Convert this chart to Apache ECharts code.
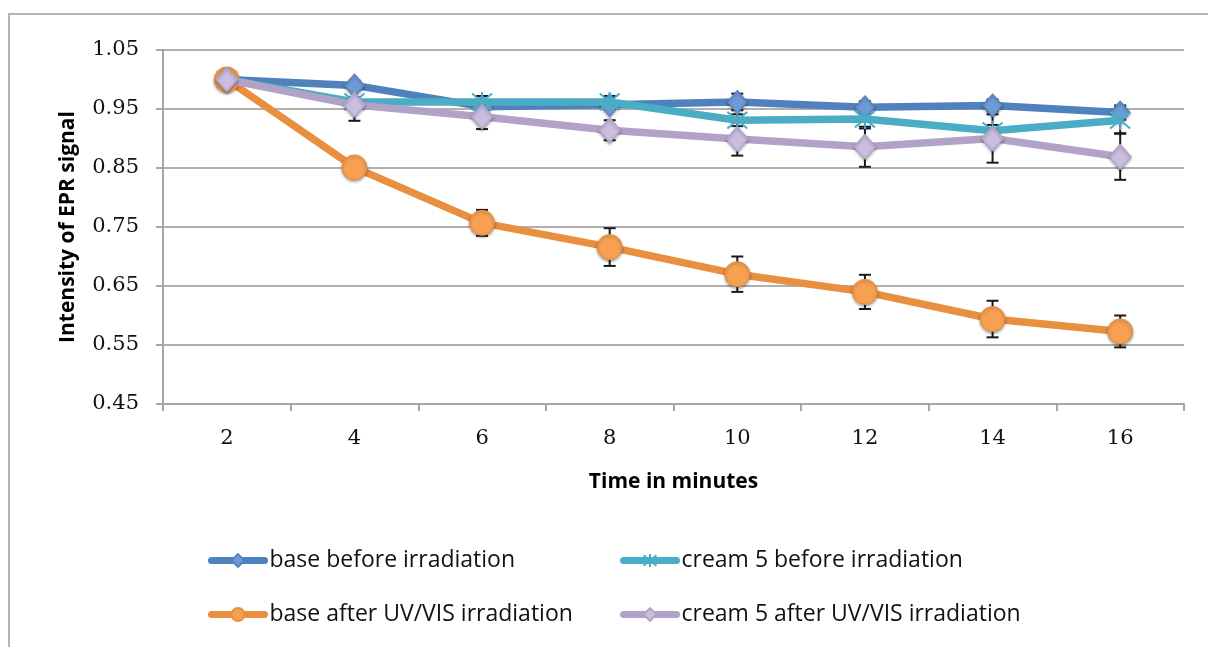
<!DOCTYPE html>
<html>
<head>
<meta charset="utf-8">
<script src="https://cdn.jsdelivr.net/npm/echarts@6/dist/echarts.min.js"></script>
<style>
  html, body { margin: 0; padding: 0; background: #fff; }
  #chart { width: 1208px; height: 647px; }
</style>
</head>
<body>
<div id="chart"></div>
<script>
// time points (minutes)
const minutes = ["2", "4", "6", "8", "10", "12", "14", "16"]

// series values
const baseBefore = [1.0, 0.990, 0.954, 0.957, 0.962, 0.953, 0.956, 0.944]
const creamBefore = [1.0, 0.962, 0.962, 0.962, 0.931, 0.933, 0.913, 0.931]
const baseAfter = [1.0, 0.851, 0.757, 0.716, 0.670, 0.640, 0.594, 0.573]
const creamAfter = [1.0, 0.957, 0.937, 0.914, 0.899, 0.886, 0.900, 0.869]

// error bar half-widths
const baseBeforeErr = [0.005, 0.008, 0.008, 0.008, 0.014, 0.010, 0.010, 0.012]
const creamBeforeErr = [0.006, 0.008, 0.010, 0.010, 0.010, 0.016, 0.010, 0.022]
const baseAfterErr = [0.004, 0.005, 0.022, 0.032, 0.030, 0.029, 0.031, 0.027]
const creamAfterErr = [0.006, 0.027, 0.021, 0.017, 0.028, 0.034, 0.041, 0.039]

const names = [
  "base before irradiation",
  "cream 5 before irradiation",
  "base after UV/VIS irradiation",
  "cream 5 after UV/VIS irradiation"
]

const chart = echarts.init(document.getElementById("chart"))

// error bar data: [index, low, high]
const errData = (vals, errs) => vals.map((v, i) => [i, v - errs[i], v + errs[i]])

const errSeries = (vals, errs) => ({
  type: "custom",
  z: 1,
  silent: true,
  data: errData(vals, errs),
  encode: { x: 0, y: [1, 2] },
  renderItem: (params, api) => {
    const lo = api.coord([api.value(0), api.value(1)])
    const hi = api.coord([api.value(0), api.value(2)])
    const cap = 6
    const style = { stroke: "#1a1a1a", lineWidth: 2 }
    return {
      type: "group",
      children: [
        { type: "line", shape: { x1: lo[0], y1: lo[1], x2: hi[0], y2: hi[1] }, style },
        { type: "line", shape: { x1: lo[0] - cap, y1: lo[1], x2: lo[0] + cap, y2: lo[1] }, style },
        { type: "line", shape: { x1: hi[0] - cap, y1: hi[1], x2: hi[0] + cap, y2: hi[1] }, style }
      ]
    }
  }
})

const markerShadow = { shadowBlur: 3, shadowColor: "rgba(0,0,0,0.35)", shadowOffsetY: 1.5 }

const legendBase = {
  top: 544,
  orient: "vertical",
  itemGap: 31,
  itemWidth: 53,
  itemHeight: 16,
  lineStyle: { width: 7, cap: "round" },
  textStyle: { fontFamily: "Open Sans", fontSize: 23, color: "#111" }
}

const option = {
  animation: false,
  textStyle: { fontFamily: "Open Sans" },
  graphic: [
    {
      type: "rect",
      shape: { x: 9, y: 14, width: 1220, height: 700 },
      style: { fill: "none", stroke: "#b4b4b4", lineWidth: 2 },
      silent: true
    }
  ],
  grid: { left: 163, right: 24, top: 50, bottom: 243 },
  legend: [
    { ...legendBase, left: 203, data: [names[0], names[2]] },
    { ...legendBase, left: 615, data: [names[1], names[3]] }
  ],
  xAxis: {
    type: "category",
    data: minutes,
    boundaryGap: true,
    name: "Time in minutes",
    nameLocation: "middle",
    nameGap: 68,
    nameTextStyle: { fontFamily: "Open Sans", fontWeight: "bold", fontSize: 21, color: "#000" },
    axisLine: { lineStyle: { color: "#a6a6a6", width: 2 } },
    axisTick: { show: true, length: 7, alignWithLabel: false, lineStyle: { color: "#a6a6a6", width: 2 } },
    axisLabel: { fontFamily: "DejaVu Serif", fontSize: 21, color: "#111", margin: 24 },
    splitLine: { show: false }
  },
  yAxis: {
    type: "value",
    min: 0.45,
    max: 1.05,
    interval: 0.1,
    name: "Intensity of EPR signal",
    nameLocation: "middle",
    nameGap: 84,
    nameTextStyle: { fontFamily: "Open Sans", fontWeight: "bold", fontSize: 21, color: "#000" },
    axisLine: { show: true, lineStyle: { color: "#a6a6a6", width: 2 } },
    axisTick: { show: true, length: 7, lineStyle: { color: "#a6a6a6", width: 2 } },
    axisLabel: {
      fontFamily: "DejaVu Serif",
      fontSize: 21,
      color: "#111",
      margin: 24,
      formatter: v => v.toFixed(2)
    },
    splitLine: { lineStyle: { color: "#b0b0b0", width: 2 } }
  },
  series: [
    errSeries(baseBefore, baseBeforeErr),
    errSeries(creamBefore, creamBeforeErr),
    errSeries(baseAfter, baseAfterErr),
    errSeries(creamAfter, creamAfterErr),
    {
      name: names[0],
      type: "line",
      data: baseBefore,
      z: 2,
      symbol: "diamond",
      symbolSize: [20, 23],
      lineStyle: { color: "#4f81bd", width: 7.5 },
      itemStyle: { color: "#6f9ad6", borderColor: "#4f81bd", borderWidth: 1, ...markerShadow }
    },
    {
      name: names[1],
      type: "line",
      data: creamBefore,
      z: 3,
      symbol: "path://M0,0L10,10M10,0L0,10M5,-1L5,11",
      symbolSize: 20,
      lineStyle: { color: "#4bacc6", width: 7.5 },
      itemStyle: { color: "#4bacc6", borderColor: "#4bacc6", borderWidth: 2 }
    },
    {
      name: names[2],
      type: "line",
      data: baseAfter,
      z: 4,
      symbol: "circle",
      symbolSize: 25,
      lineStyle: { color: "#e88f40", width: 7.5 },
      itemStyle: { color: "#f7a052", borderColor: "#e88f40", borderWidth: 1, ...markerShadow }
    },
    {
      name: names[3],
      type: "line",
      data: creamAfter,
      z: 5,
      symbol: "diamond",
      symbolSize: [22, 25],
      lineStyle: { color: "#b3a2c7", width: 7.5 },
      itemStyle: { color: "#cbbde0", borderColor: "#b3a2c7", borderWidth: 1, ...markerShadow }
    }
  ]
}

chart.setOption(option)
</script>
</body>
</html>
